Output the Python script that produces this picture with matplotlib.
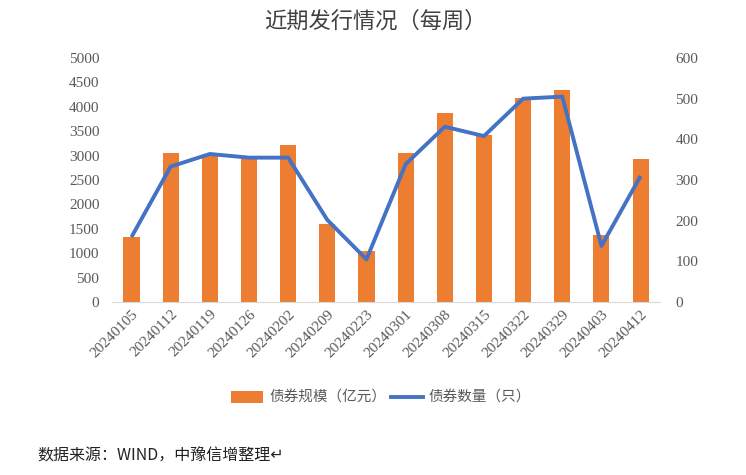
import matplotlib.pyplot as plt
import matplotlib.lines as mlines
import matplotlib.patches as mpatches
import numpy as np

# ── Data ──────────────────────────────────────────────────────────────────────
dates = ["20240105", "20240112", "20240119", "20240126", "20240202", "20240209",
         "20240223", "20240301", "20240308", "20240315", "20240322", "20240329",
         "20240403", "20240412"]
scale = [1330, 3050, 3010, 2950, 3220, 1600, 1045, 3050, 3875, 3420, 4180, 4345,
         1375, 2930]          # 债券规模（亿元）
count = [160, 333, 364, 355, 355, 202, 105, 339, 431, 408, 500, 505, 138, 310]  # 债券数量（只）

ORANGE = "#ED7D31"
BLUE = "#4472C4"
GRAY = "#595959"
CJK = ["Noto Sans CJK SC", "DejaVu Sans"]

fig = plt.figure(figsize=(7.46, 4.75), dpi=100)
ax = fig.add_axes([0.150, 0.364, 0.735, 0.514])
ax2 = ax.twinx()

x = np.arange(len(dates))
ax.bar(x, scale, width=0.41, color=ORANGE, zorder=2)
ax2.plot(x, count, color=BLUE, linewidth=2.8, solid_capstyle="butt", zorder=3)

ax.set_xlim(-0.5, len(dates) - 0.5)
ax.set_ylim(0, 5000)
ax.set_yticks(range(0, 5001, 500))
ax2.set_ylim(0, 600)
ax2.set_yticks(range(0, 601, 100))

ax.set_xticks(x)
ax.set_xticklabels(dates, rotation=45, ha="right", rotation_mode="anchor",
                   family="Liberation Serif", fontsize=11, color=GRAY)
for a in (ax, ax2):
    for s in a.spines.values():
        s.set_visible(False)
    a.tick_params(length=0, labelsize=11, labelcolor=GRAY)
    for lab in a.get_yticklabels():
        lab.set_family("Liberation Serif")
ax.spines["bottom"].set_visible(True)
ax.spines["bottom"].set_color("#D9D9D9")
ax.tick_params(axis="y", pad=9)
ax2.tick_params(axis="y", pad=11)
ax.tick_params(axis="x", pad=4)

# ── Title / legend / source ───────────────────────────────────────────────────
fig.text(0.503, 0.955, "近期发行情况（每周）", ha="center", va="center",
         family=CJK, fontsize=16, color="#404040")

handles = [mpatches.Patch(facecolor=ORANGE, label="债券规模（亿元）"),
           mlines.Line2D([], [], color=BLUE, linewidth=2.8, label="债券数量（只）")]
leg = fig.legend(handles=handles, loc="center", bbox_to_anchor=(0.511, 0.162),
                 ncol=2, frameon=False, prop={"family": CJK, "size": 10.5},
                 handlelength=2.2, handleheight=0.8, columnspacing=0.3,
                 handletextpad=0.4)
for t in leg.get_texts():
    t.set_color(GRAY)

fig.text(0.050, 0.040, "数据来源：WIND，中豫信增整理↵", ha="left", va="center",
         family=CJK, fontsize=11.5, color="#222222")

plt.savefig("out.png", dpi=100)
